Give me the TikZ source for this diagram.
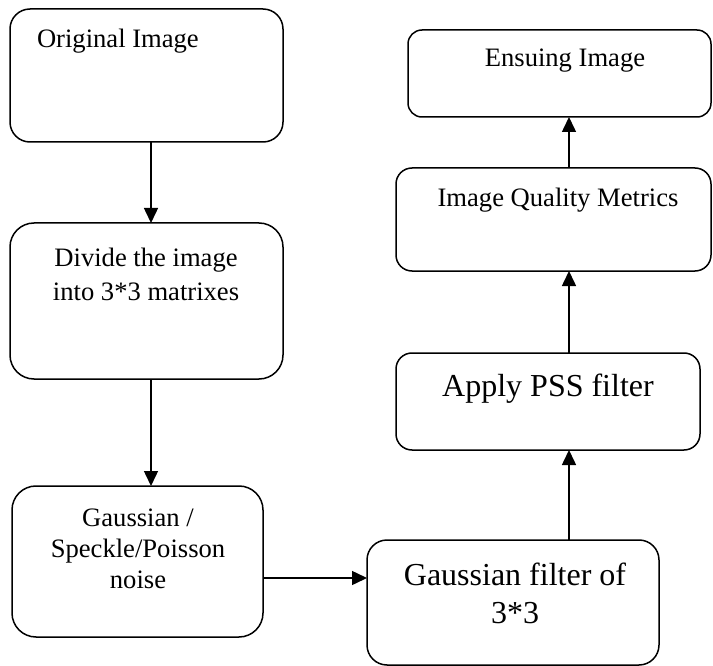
\documentclass[tikz,border=0pt]{standalone}
\usepackage{fontspec}
\setmainfont{Liberation Serif}
\usetikzlibrary{arrows.meta}

\begin{document}
\begin{tikzpicture}[x=1pt,y=-1pt,
  box/.style={draw=black, line width=1.5pt, rectangle, inner sep=0pt, outer sep=0pt},
  txt/.style={inner sep=0pt, outer sep=0pt, anchor=base, font=\fontsize{26.6}{31}\selectfont},
  bigtxt/.style={txt, font=\fontsize{32}{38}\selectfont},
  arr/.style={line width=1.5pt, -{Triangle[length=15pt, width=14pt]}}]
\useasboundingbox (0,0) rectangle (713,666);
\fill[white] (0,0) rectangle (713,666);

% process boxes
\node[box, minimum width=273pt, minimum height=133pt, rounded corners=20pt] (b1) at (146.5,75.5) {};
\node[box, minimum width=273pt, minimum height=156pt, rounded corners=24pt] (b2) at (146.5,301) {};
\node[box, minimum width=251pt, minimum height=151pt, rounded corners=24pt] (b3) at (137.5,561.5) {};
\node[box, minimum width=292pt, minimum height=125pt, rounded corners=20pt] (b4) at (513,602.5) {};
\node[box, minimum width=304pt, minimum height=97pt, rounded corners=16pt] (b5) at (548,401.5) {};
\node[box, minimum width=315pt, minimum height=103pt, rounded corners=16pt] (b6) at (553.5,219.5) {};
\node[box, minimum width=303pt, minimum height=87pt, rounded corners=14pt] (b7) at (559.5,73.5) {};

% box texts
\node[txt, anchor=base west] (t1) at (37,48) {Original Image};
\node[txt] (t2a) at (146,266) {Divide the image};
\node[txt] (t2b) at (146,300) {into 3*3 matrixes};
\node[txt] (t3a) at (138,526) {Gaussian /};
\node[txt] (t3b) at (138,557) {Speckle/Poisson};
\node[txt] (t3c) at (138,588) {noise};
\node[bigtxt] (t4a) at (515,585) {Gaussian filter of};
\node[bigtxt] (t4b) at (515,623) {3*3};
\node[bigtxt] (t5) at (548,396) {Apply PSS filter};
\node[txt] (t6) at (558,207) {Image Quality Metrics};
\node[txt] (t7) at (565,67) {Ensuing Image};

% connector guides
\coordinate (colL) at (151,0);
\coordinate (colR) at (569,0);
\coordinate (rowB) at (0,578);

% connectors
\draw[arr] (b1.south -| colL) -- (b2.north -| colL);
\draw[arr] (b2.south -| colL) -- (b3.north -| colL);
\draw[arr] (b3.east |- rowB) -- (b4.west |- rowB);
\draw[arr] (b4.north -| colR) -- (b5.south -| colR);
\draw[arr] (b5.north -| colR) -- (b6.south -| colR);
\draw[arr] (b6.north -| colR) -- (b7.south -| colR);
\end{tikzpicture}
\end{document}
